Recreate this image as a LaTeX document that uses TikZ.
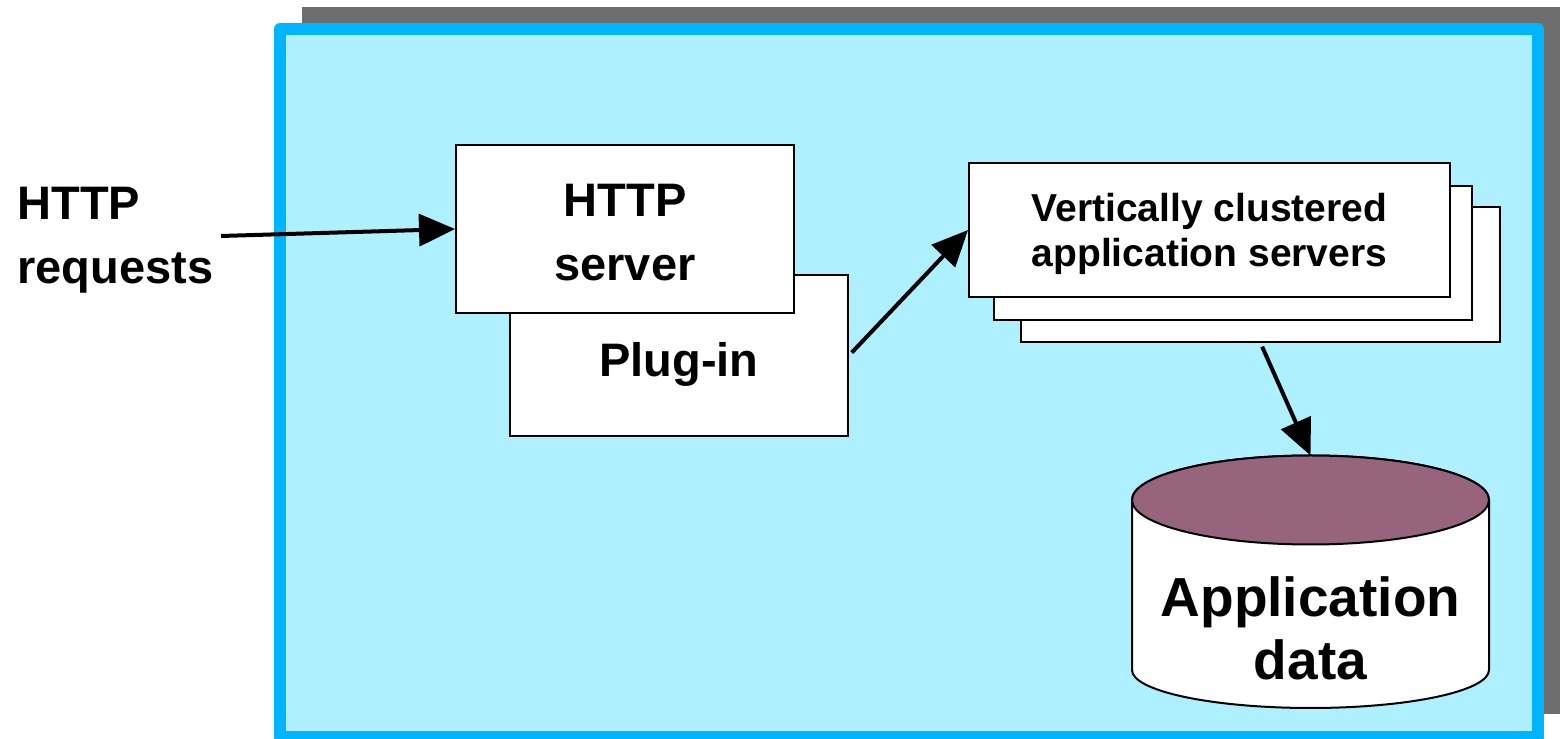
\documentclass[tikz,border=0pt]{standalone}
\usepackage{fontspec}
\setmainfont{Liberation Sans}
\usetikzlibrary{arrows.meta}

\definecolor{panelfill}{HTML}{AEF0FF}
\definecolor{panelrim}{HTML}{00B4FF}
\definecolor{shadowgray}{HTML}{6E6E6E}
\definecolor{disktop}{HTML}{96647D}

\begin{document}
\begin{tikzpicture}[x=0.5pt,y=0.5pt,
  box/.style={draw=black,line width=1pt,fill=white,inner sep=0pt,align=center},
  bigtxt/.style={font=\fontsize{23.5}{32}\selectfont\bfseries},
  smalltxt/.style={font=\fontsize{19.5}{22.5}\selectfont\bfseries},
  flow/.style={-{Triangle[length=18pt,width=16pt]},line width=2pt}]
\useasboundingbox (0,0) rectangle (1560,739);
% panel with its shadow
\fill[shadowgray] (302,25) rectangle (1560,732);
\draw[panelrim,fill=panelfill,line width=6pt,line join=round] (280,2) rectangle (1538,710);
% incoming requests
\node[bigtxt,anchor=west,align=left,inner sep=0pt] (req) at (17,499) {HTTP\\requests};
\coordinate (reqtail) at (221,503);
% web server with its plug-in
\node[box,bigtxt,minimum width=169pt,minimum height=80.5pt,text height=26pt] (plug) at (679,383.5) {Plug-in};
\node[box,bigtxt,minimum width=169pt,minimum height=84pt,text height=52pt] (srv) at (625,510) {HTTP\\server};
% stack of application servers
\node[box,minimum width=239.5pt,minimum height=67.5pt] (appC) at (1260.5,464.5) {};
\node[box,minimum width=239pt,minimum height=67pt] (appB) at (1233,485.5) {};
\node[box,smalltxt,minimum width=240.5pt,minimum height=67pt,text height=40.5pt] (appA) at (1209.5,509) {Vertically clustered\\application servers};
% database
\filldraw[fill=white,line width=1pt] (1132,239) -- (1132,69)
  arc[start angle=180,end angle=360,x radius=178.5,y radius=38] -- (1489,239)
  arc[start angle=0,end angle=180,x radius=178.5,y radius=44.5] -- cycle;
\filldraw[fill=disktop,line width=1pt] (1310.5,239) ellipse [x radius=178.5,y radius=44.5];
\coordinate (dtop) at (1310.5,283.5);
\node[font=\fontsize{27.5}{31.5}\selectfont\bfseries,align=center] (data) at (1310.5,111) {Application\\data};
% connectors
\draw[flow] (reqtail) -- (srv.west);
\draw[flow,shorten <=2pt] (plug.east) -- (appA.west);
\draw[flow,shorten <=2pt] (appC.south) -- (dtop);
\end{tikzpicture}
\end{document}
